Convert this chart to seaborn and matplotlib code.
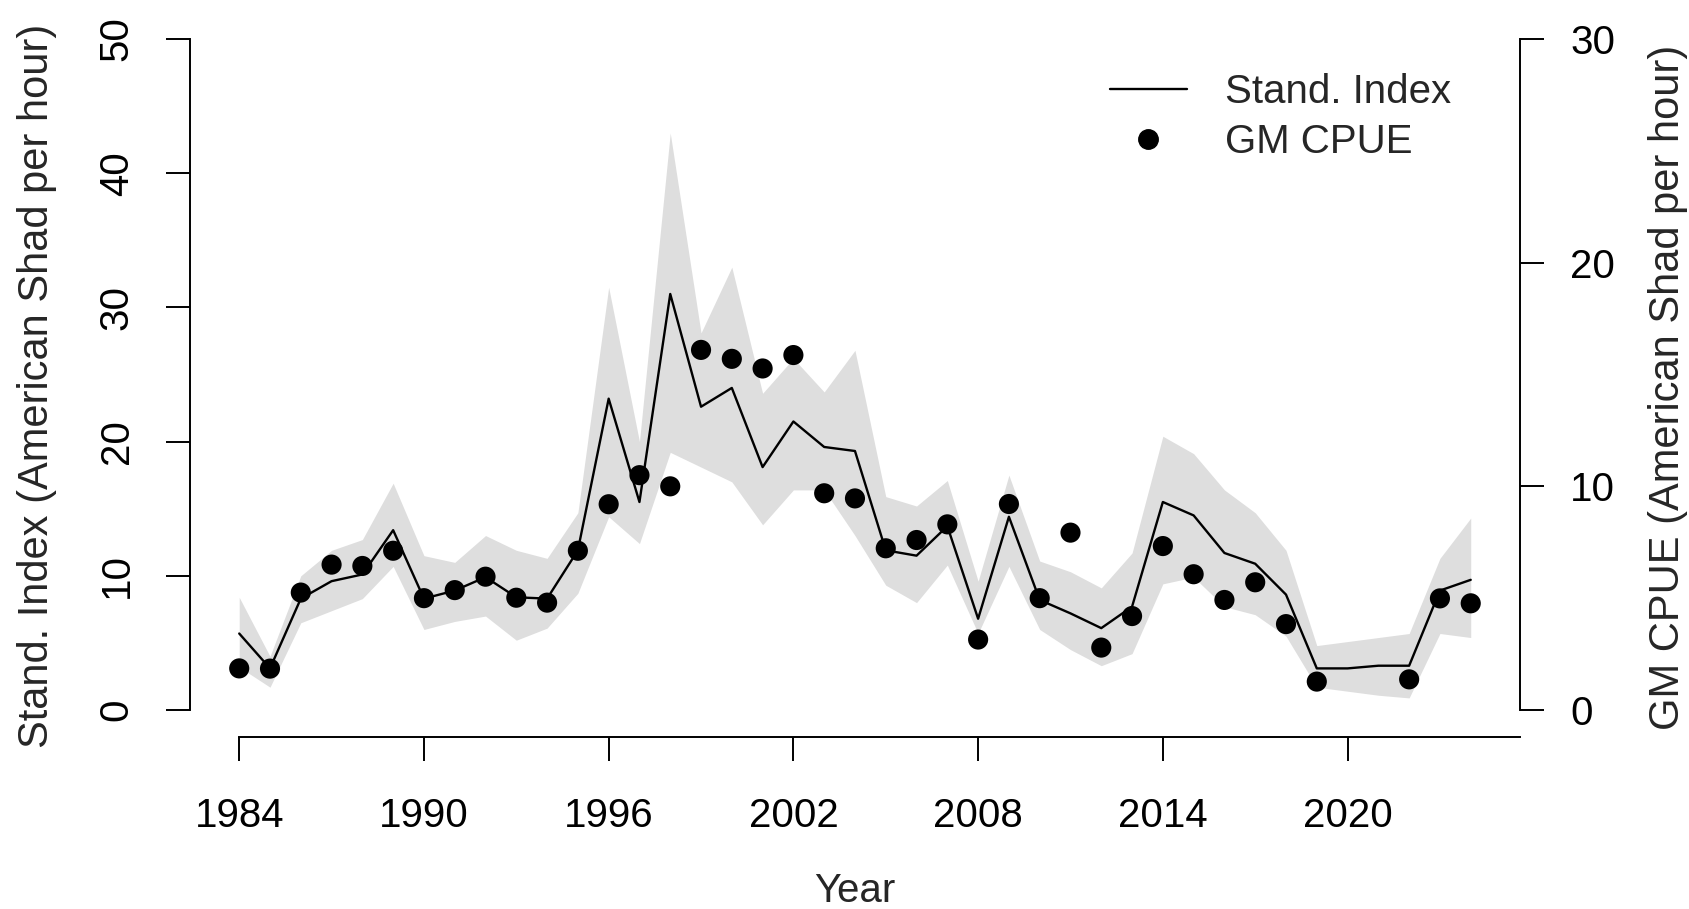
import numpy as np
import pandas as pd
import matplotlib
matplotlib.use("Agg")
import matplotlib.pyplot as plt
from matplotlib.lines import Line2D
import seaborn as sns

# -------------------- DATA --------------------
years = list(range(1984, 2025))

stand_index = [5.7, 3.1, 8.3, 9.6, 10.1, 13.4, 8.3, 8.9, 9.9, 8.4,
               8.3, 11.9, 23.2, 15.5, 31.0, 22.6, 24.0, 18.1, 21.5, 19.6,
               19.3, 11.9, 11.5, 13.7, 6.8, 14.4, 8.2, 7.2, 6.1, 7.7,
               15.5, 14.5, 11.7, 10.9, 8.6, 3.1, 3.1, 3.3, 3.3, 8.9,
               9.7]

index_lower = [3.2, 1.7, 6.5, 7.4, 8.3, 10.7, 6.0, 6.6, 7.0, 5.2,
               6.1, 8.7, 14.4, 12.4, 19.2, 18.1, 17.0, 13.8, 16.4, 16.4,
               13.0, 9.3, 8.0, 10.8, 5.7, 10.7, 6.0, 4.5, 3.3, 4.2,
               9.4, 9.9, 7.7, 7.1, 5.5, 1.7, 1.4, 1.1, 0.9, 5.7,
               5.4]

index_upper = [8.4, 4.0, 10.0, 11.9, 12.7, 16.9, 11.5, 11.0, 13.0, 11.9,
               11.3, 14.7, 31.5, 20.0, 43.0, 28.1, 33.0, 23.6, 26.2, 23.7,
               26.8, 15.9, 15.2, 17.1, 9.6, 17.5, 11.1, 10.3, 9.1, 11.7,
               20.4, 19.1, 16.4, 14.7, 11.9, 4.8, 5.1, 5.4, 5.7, 11.3,
               14.3]

# no survey CPUE in 2020 and 2021
gm_cpue = [1.86, 1.85, 5.25, 6.5, 6.44, 7.12, 5.0, 5.36, 5.96, 5.02,
           4.8, 7.12, 9.2, 10.5, 10.0, 16.1, 15.7, 15.27, 15.87, 9.69,
           9.46, 7.23, 7.6, 8.3, 3.15, 9.21, 5.0, 7.93, 2.79, 4.2,
           7.33, 6.07, 4.92, 5.71, 3.84, 1.27, None, None, 1.37, 4.99,
           4.77]

x_ticks = list(range(1984, 2021, 6))
left_ticks = list(range(0, 51, 10))
right_ticks = list(range(0, 31, 10))

df = pd.DataFrame({
    "year": years,
    "index": stand_index,
    "lower": index_lower,
    "upper": index_upper,
    "cpue": pd.Series(gm_cpue, dtype="float"),
})

# -------------------- STYLE --------------------
sns.set_style("ticks")
plt.rcParams["font.family"] = ["Liberation Sans", "DejaVu Sans"]
FS = 29

fig = plt.figure(figsize=(16.9, 9.09), dpi=100)
ax = fig.add_axes([0.1124, 0.1894, 0.787, 0.7972])

# -------------------- PLOT --------------------
ax.fill_between(df["year"], df["lower"], df["upper"],
                color="#DEDEDE", linewidth=0, zorder=1)
sns.lineplot(data=df, x="year", y="index", ax=ax, color="black",
             linewidth=1.7, legend=False, zorder=2)

ax2 = ax.twinx()
sns.scatterplot(data=df, x="year", y="cpue", ax=ax2, color="black",
                s=210, edgecolor="none", legend=False, zorder=3)

ax.set_xlim(1982.4, 2025.6)
ax.set_ylim(-2, 52)
ax2.set_ylim(-1.2, 31.2)

ax.set_xticks(x_ticks)
ax.set_yticks(left_ticks)
ax2.set_yticks(right_ticks)

for s in ["top", "right"]:
    ax.spines[s].set_visible(False)
for s in ["top", "left", "bottom"]:
    ax2.spines[s].set_visible(False)
ax.spines["left"].set_bounds(0, 50)
ax.spines["bottom"].set_bounds(1984, 2025.6)
ax2.spines["right"].set_bounds(0, 30)
for sp in [ax.spines["left"], ax.spines["bottom"], ax2.spines["right"]]:
    sp.set_linewidth(1.4)
    sp.set_color("black")

ax.tick_params(axis="x", length=17, width=1.4, pad=26, labelsize=FS, colors="black")
ax.tick_params(axis="y", length=17, width=1.4, pad=22, labelsize=FS,
               labelrotation=90, colors="black")
ax2.tick_params(axis="y", length=17, width=1.4, pad=19, labelsize=FS, colors="black")
for lab in ax.get_yticklabels():
    lab.set_verticalalignment("center")

ax.set_xlabel("Year", fontsize=FS)
ax.set_ylabel("Stand. Index (American Shad per hour)", fontsize=30)
ax2.set_ylabel("GM CPUE (American Shad per hour)", fontsize=30, rotation=90)
ax.xaxis.set_label_coords(0.5, -0.187)
ax.yaxis.set_label_coords(-0.115, 0.484)
ax2.yaxis.set_label_coords(1.111, 0.482)
ax.yaxis.label.set_verticalalignment("center")
ax2.yaxis.label.set_verticalalignment("center")

handles = [Line2D([], [], color="black", linewidth=1.7),
           Line2D([], [], color="black", marker="o", linestyle="", markersize=14)]
ax2.legend(handles, ["Stand. Index", "GM CPUE"], loc="upper left",
           bbox_to_anchor=(0.6568, 0.920), bbox_transform=fig.transFigure,
           frameon=False, fontsize=FS, handlelength=1.91, handletextpad=0.94,
           labelspacing=0.31, borderpad=0, borderaxespad=0)

fig.savefig("out.png", dpi=100)
plt.close(fig)
